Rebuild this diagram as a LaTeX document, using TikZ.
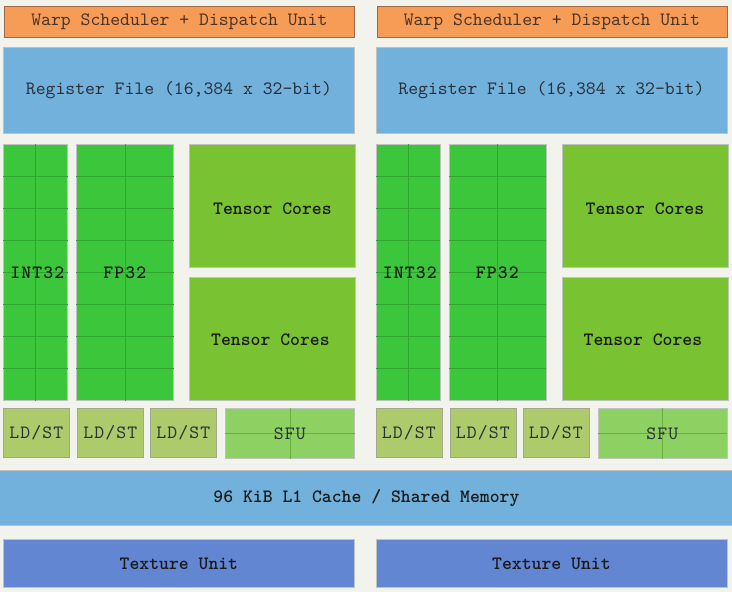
\documentclass[tikz,border=0pt]{standalone}
\usepackage{fontspec}
\setmonofont{lmmono10-regular.otf}[BoldFont=lmmonolt10-bold.otf]
\usetikzlibrary{calc}
\definecolor{bg}{HTML}{F3F3EE}
\definecolor{warpfill}{HTML}{F69C56}
\definecolor{warpedge}{HTML}{9C6B45}
\definecolor{warptext}{HTML}{4A3426}
\definecolor{regfill}{HTML}{71B1DC}
\definecolor{edge}{HTML}{BFC3C0}
\definecolor{corefill}{HTML}{3CC63C}
\definecolor{gridcol}{HTML}{2FA42F}
\definecolor{tensorfill}{HTML}{79C333}
\definecolor{ldstfill}{HTML}{ADCB6A}
\definecolor{ldstedge}{HTML}{A0A890}
\definecolor{sfufill}{HTML}{8DD162}
\definecolor{sfugrid}{HTML}{6AAE44}
\definecolor{texfill}{HTML}{6386D3}
\definecolor{txt}{HTML}{1A1A1A}
\definecolor{txtlight}{HTML}{2A3038}
\newcommand\myfont{\ttfamily\fontsize{18.8}{20}\selectfont}
\tikzset{
  unit/.style={draw=edge, line width=0.8pt, anchor=north west, inner sep=0pt,
    font=\myfont, text=txtlight},
  boldunit/.style={unit, font=\myfont\bfseries, text=txt},
  warpbox/.style={unit, fill=warpfill, draw=warpedge, text=warptext},
  regbox/.style={unit, fill=regfill},
  corebox/.style={unit, fill=corefill, draw=edge},
  tensorbox/.style={boldunit, fill=tensorfill},
  ldstbox/.style={unit, fill=ldstfill, draw=ldstedge, text=txtlight},
  sfubox/.style={unit, fill=sfufill, draw=edge},
  l1box/.style={boldunit, fill=regfill},
  texbox/.style={boldunit, fill=texfill},
  gridline/.style={draw=gridcol, line width=0.8pt},
  sfuline/.style={draw=sfugrid, line width=0.8pt},
  coretext/.style={font=\myfont\bfseries\addfontfeature{LetterSpace=6}, text=txt, inner sep=0pt},
  sfutext/.style={font=\myfont\addfontfeature{LetterSpace=6}, text=txtlight, inner sep=0pt}
}
\begin{document}
\begin{tikzpicture}[x=1pt,y=-1pt]
\fill[bg] (0,0) rectangle (732,592);
\useasboundingbox (0,0) rectangle (732,592);

\foreach \o/\s in {0/L,372.5/R}{
  \node[warpbox, minimum width=350pt, minimum height=31pt] (warp\s) at (4+\o,6) {Warp Scheduler + Dispatch Unit};
  \node[regbox, minimum width=351pt, minimum height=86pt] (reg\s) at (3+\o,47) {Register File (16,384 x 32-bit)};
  % INT32 / FP32 blocks
  \node[corebox, minimum width=64pt, minimum height=256pt] (int\s) at (3+\o,144) {};
  \node[corebox, minimum width=97pt, minimum height=256pt] (fp\s) at (76+\o,144) {};
  \foreach \i in {1,...,7}{
    \draw[gridline] ($(int\s.north west)!\i/8!(int\s.south west)$) -- ($(int\s.north east)!\i/8!(int\s.south east)$);
    \draw[gridline] ($(fp\s.north west)!\i/8!(fp\s.south west)$) -- ($(fp\s.north east)!\i/8!(fp\s.south east)$);
  }
  \draw[gridline] (int\s.north) -- (int\s.south);
  \draw[gridline] (fp\s.north) -- (fp\s.south);
  \node[coretext] (intlabel\s) at ($(int\s.center)+(2,0)$) {INT32};
  \node[coretext] (fplabel\s) at (fp\s.center) {FP32};
  % Tensor cores
  \node[tensorbox, minimum width=166pt, minimum height=123pt] (tca\s) at (189+\o,144) {};
  \node[tensorbox, minimum width=166pt, minimum height=123pt] (tcb\s) at (189+\o,277) {};
  \node[boldunit, draw=none, anchor=center] (tcalabel\s) at ($(tca\s.center)+(0,3)$) {Tensor Cores};
  \node[boldunit, draw=none, anchor=center] (tcblabel\s) at ($(tcb\s.center)+(-2,1)$) {Tensor Cores};
  % LD/ST and SFU
  \node[ldstbox, minimum width=66pt, minimum height=49pt] (lda\s) at (3+\o,408) {};
  \node[ldstbox, minimum width=66pt, minimum height=49pt] (ldb\s) at (77+\o,408) {};
  \node[ldstbox, minimum width=66pt, minimum height=49pt] (ldc\s) at (150+\o,408) {};
  \node[sfutext] (ldalabel\s) at (lda\s.center) {LD/ST};
  \node[sfutext] (ldblabel\s) at (ldb\s.center) {LD/ST};
  \node[sfutext] (ldclabel\s) at (ldc\s.center) {LD/ST};
  \node[sfubox, minimum width=129pt, minimum height=50pt] (sfu\s) at (225+\o,408) {};
  \draw[sfuline] (sfu\s.north) -- (sfu\s.south);
  \draw[sfuline] (sfu\s.west) -- (sfu\s.east);
  \node[sfutext] (sfulabel\s) at (sfu\s.center) {SFU};
  % Texture unit
  \node[texbox, minimum width=351pt, minimum height=48pt] (tex\s) at (3+\o,539) {Texture Unit};
}
\node[l1box, minimum width=736pt, minimum height=55pt] (l1) at (-2,470) {96 KiB L1 Cache / Shared Memory};
\end{tikzpicture}
\end{document}
